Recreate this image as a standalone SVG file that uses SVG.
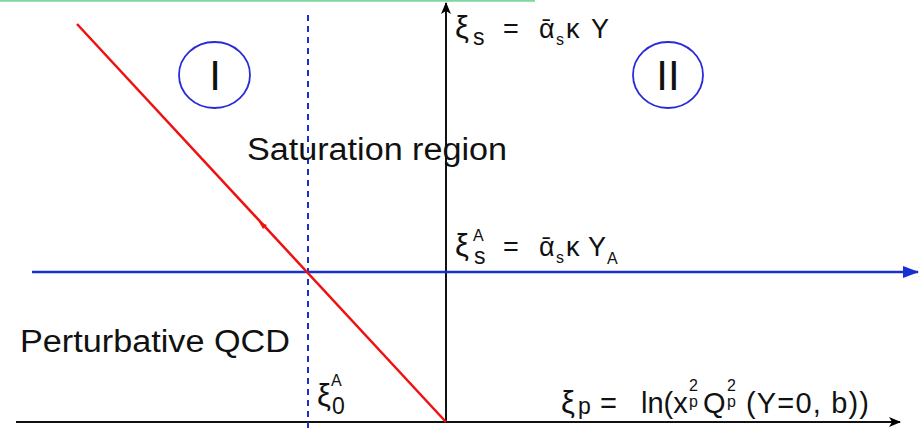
<svg xmlns="http://www.w3.org/2000/svg" width="924" height="433" viewBox="0 0 924 433">
<defs>
<marker id="ab" markerWidth="12" markerHeight="10" refX="11" refY="5" orient="auto" markerUnits="userSpaceOnUse"><path d="M0,0 L12,5 L0,10 L3,5 Z" fill="#000"/></marker>
<marker id="abl" markerWidth="16" markerHeight="12" refX="15" refY="6" orient="auto" markerUnits="userSpaceOnUse"><path d="M0,0 L16,6 L0,12 Z" fill="#1a2fd0"/></marker>
</defs>
<style>
text{font-family:"Liberation Sans",Arial,sans-serif;fill:#111}
.big{font-size:31px}
.lbl{font-size:27px}
.lp{font-size:29px}
.xi{font-size:31px}
.sub{font-size:23px}
.ss{font-size:16px}
.st{font-size:16px}
.rn{font-size:42px}
</style>
<rect width="924" height="433" fill="#fff"/>
<line x1="0" y1="0.7" x2="535" y2="0.7" stroke="#7fd6a0" stroke-width="2"/>
<g id="connectors">
<line id="xaxis" x1="16" y1="422" x2="900" y2="422" stroke="#111" stroke-width="2" marker-end="url(#ab)"/>
<line id="yaxis" x1="446" y1="422" x2="446" y2="3" stroke="#111" stroke-width="2" marker-end="url(#ab)"/>
<line id="ya-line" x1="32" y1="272" x2="918" y2="272" stroke="#1a2fd0" stroke-width="2.5" marker-end="url(#abl)"/>
<line id="dashed" x1="308" y1="15" x2="308" y2="433" stroke="#1a2fd0" stroke-width="2" stroke-dasharray="6,5"/>
<line id="red" x1="77" y1="24" x2="446" y2="422" stroke="#f01010" stroke-width="2.5"/>
<path d="M259,222 L267,225 L263,229 Z" fill="#f01010"/>
</g>
<g id="region1">
<ellipse cx="214.5" cy="75" rx="35.5" ry="33" fill="none" stroke="#2a2ad8" stroke-width="1.8"/>
<text class="rn" x="215" y="90" text-anchor="middle">I</text>
</g>
<g id="region2">
<ellipse cx="668" cy="75" rx="35" ry="33" fill="none" stroke="#2a2ad8" stroke-width="1.8"/>
<text class="rn" x="668" y="90" text-anchor="middle">II</text>
</g>
<g id="sat">
<text class="big" x="247" y="160" textLength="260" lengthAdjust="spacingAndGlyphs">Saturation region</text>
</g>
<g id="pqcd">
<text class="big" x="20" y="352" textLength="270" lengthAdjust="spacingAndGlyphs">Perturbative QCD</text>
</g>
<g id="xis">
<text class="lbl" y="38"><tspan class="xi" x="455">ξ</tspan><tspan class="sub" x="473" y="45">s</tspan><tspan x="503" y="38">=</tspan><tspan x="539">ᾱ</tspan><tspan class="ss" x="556" y="45">s</tspan><tspan x="566" y="38">κ</tspan><tspan x="591">Y</tspan></text>
</g>
<g id="xisA">
<text class="lbl" y="256"><tspan class="xi" x="455">ξ</tspan><tspan class="ss" x="473" y="241">A</tspan><tspan class="sub" x="474" y="264">s</tspan><tspan x="503" y="256">=</tspan><tspan x="539">ᾱ</tspan><tspan class="ss" x="556" y="263">s</tspan><tspan x="566" y="256">κ</tspan><tspan x="588">Y</tspan><tspan class="ss" x="607" y="264">A</tspan></text>
</g>
<g id="xip">
<text class="lp" y="413"><tspan class="xi" x="561">ξ</tspan><tspan class="sub" x="578" y="414">p</tspan><tspan x="600" y="413">=</tspan><tspan x="641">ln(x</tspan><tspan class="st" x="689" y="391">2</tspan><tspan class="st" x="689" y="407">p</tspan><tspan x="703" y="413">Q</tspan><tspan class="st" x="727" y="391">2</tspan><tspan class="st" x="727" y="407">p</tspan><tspan x="746" y="413" textLength="123" lengthAdjust="spacing">(Y=0, b))</tspan></text>
</g>
<g id="xi0">
<text class="lbl" y="406"><tspan class="xi" x="317">ξ</tspan><tspan class="ss" x="331" y="386">A</tspan><tspan class="sub" x="332" y="414">0</tspan></text>
</g>
</svg>
